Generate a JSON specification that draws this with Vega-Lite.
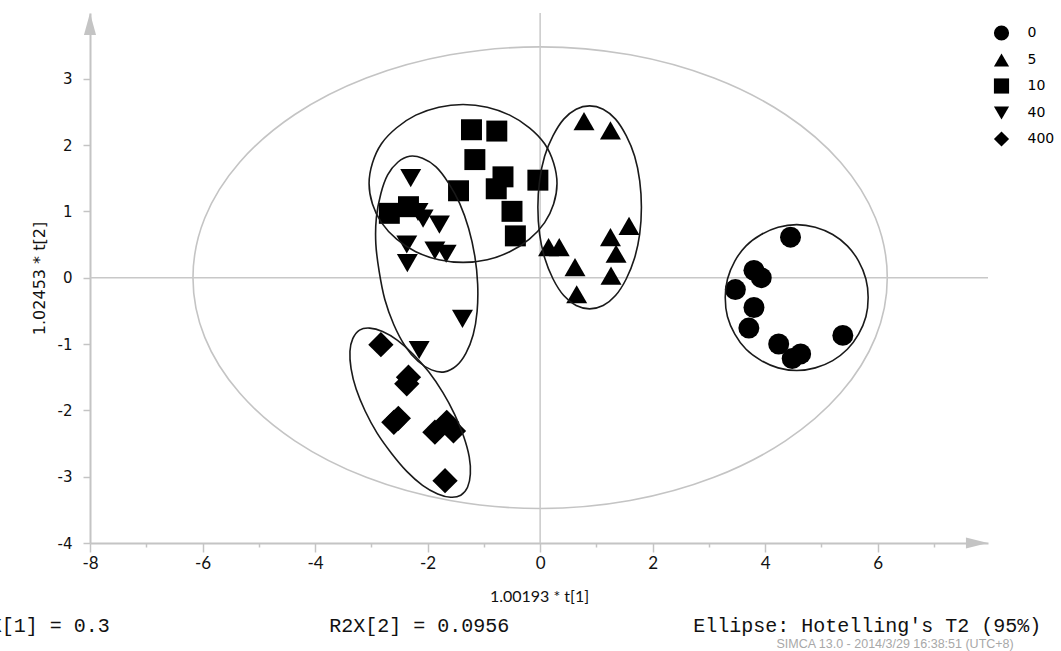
{
  "$schema": "https://vega.github.io/schema/vega-lite/v6.json",
  "width": 898,
  "height": 530,
  "autosize": {"type": "none"},
  "padding": {"left": 90, "top": 13, "right": 73, "bottom": 108},
  "background": "white",
  "config": {"view": {"stroke": null}},
  "datasets": {
    "t2": [
      {"e":"T2","i":0,"x":6.17,"y":0},{"e":"T2","i":1,"x":5.96,"y":0.90},{"e":"T2","i":2,"x":5.34,"y":1.74},{"e":"T2","i":3,"x":4.36,"y":2.46},
      {"e":"T2","i":4,"x":3.09,"y":3.01},{"e":"T2","i":5,"x":1.60,"y":3.36},{"e":"T2","i":6,"x":0,"y":3.48},{"e":"T2","i":7,"x":-1.60,"y":3.36},
      {"e":"T2","i":8,"x":-3.09,"y":3.01},{"e":"T2","i":9,"x":-4.36,"y":2.46},{"e":"T2","i":10,"x":-5.34,"y":1.74},{"e":"T2","i":11,"x":-5.96,"y":0.90},
      {"e":"T2","i":12,"x":-6.17,"y":0},{"e":"T2","i":13,"x":-5.96,"y":-0.90},{"e":"T2","i":14,"x":-5.34,"y":-1.74},{"e":"T2","i":15,"x":-4.36,"y":-2.46},
      {"e":"T2","i":16,"x":-3.09,"y":-3.01},{"e":"T2","i":17,"x":-1.60,"y":-3.36},{"e":"T2","i":18,"x":0,"y":-3.48},{"e":"T2","i":19,"x":1.60,"y":-3.36},
      {"e":"T2","i":20,"x":3.09,"y":-3.01},{"e":"T2","i":21,"x":4.36,"y":-2.46},{"e":"T2","i":22,"x":5.34,"y":-1.74},{"e":"T2","i":23,"x":5.96,"y":-0.90}
    ],
    "groups": [
      {"e":"E0","i":0,"x":5.83,"y":-0.30},{"e":"E0","i":1,"x":5.79,"y":-0.02},{"e":"E0","i":2,"x":5.66,"y":0.25},{"e":"E0","i":3,"x":5.46,"y":0.48},
      {"e":"E0","i":4,"x":5.20,"y":0.65},{"e":"E0","i":5,"x":4.89,"y":0.76},{"e":"E0","i":6,"x":4.56,"y":0.80},{"e":"E0","i":7,"x":4.23,"y":0.76},
      {"e":"E0","i":8,"x":3.93,"y":0.65},{"e":"E0","i":9,"x":3.66,"y":0.48},{"e":"E0","i":10,"x":3.46,"y":0.25},{"e":"E0","i":11,"x":3.33,"y":-0.02},
      {"e":"E0","i":12,"x":3.29,"y":-0.30},{"e":"E0","i":13,"x":3.33,"y":-0.59},{"e":"E0","i":14,"x":3.46,"y":-0.85},{"e":"E0","i":15,"x":3.66,"y":-1.08},
      {"e":"E0","i":16,"x":3.93,"y":-1.25},{"e":"E0","i":17,"x":4.23,"y":-1.36},{"e":"E0","i":18,"x":4.56,"y":-1.40},{"e":"E0","i":19,"x":4.89,"y":-1.36},
      {"e":"E0","i":20,"x":5.20,"y":-1.25},{"e":"E0","i":21,"x":5.46,"y":-1.08},{"e":"E0","i":22,"x":5.66,"y":-0.85},{"e":"E0","i":23,"x":5.79,"y":-0.59},

      {"e":"E5","i":0,"x":1.80,"y":1.06},{"e":"E5","i":1,"x":1.77,"y":1.46},{"e":"E5","i":2,"x":1.68,"y":1.83},{"e":"E5","i":3,"x":1.53,"y":2.14},
      {"e":"E5","i":4,"x":1.34,"y":2.39},{"e":"E5","i":5,"x":1.12,"y":2.54},{"e":"E5","i":6,"x":0.88,"y":2.59},{"e":"E5","i":7,"x":0.64,"y":2.54},
      {"e":"E5","i":8,"x":0.42,"y":2.39},{"e":"E5","i":9,"x":0.23,"y":2.14},{"e":"E5","i":10,"x":0.08,"y":1.83},{"e":"E5","i":11,"x":-0.01,"y":1.46},
      {"e":"E5","i":12,"x":-0.04,"y":1.06},{"e":"E5","i":13,"x":-0.01,"y":0.66},{"e":"E5","i":14,"x":0.08,"y":0.30},{"e":"E5","i":15,"x":0.23,"y":-0.02},
      {"e":"E5","i":16,"x":0.42,"y":-0.27},{"e":"E5","i":17,"x":0.64,"y":-0.42},{"e":"E5","i":18,"x":0.88,"y":-0.47},{"e":"E5","i":19,"x":1.12,"y":-0.42},
      {"e":"E5","i":20,"x":1.34,"y":-0.27},{"e":"E5","i":21,"x":1.53,"y":-0.02},{"e":"E5","i":22,"x":1.68,"y":0.30},{"e":"E5","i":23,"x":1.77,"y":0.66},

      {"e":"E10","i":0,"x":0.30,"y":1.42},{"e":"E10","i":1,"x":0.24,"y":1.73},{"e":"E10","i":2,"x":0.08,"y":2.02},{"e":"E10","i":3,"x":-0.19,"y":2.26},
      {"e":"E10","i":4,"x":-0.54,"y":2.45},{"e":"E10","i":5,"x":-0.94,"y":2.57},{"e":"E10","i":6,"x":-1.37,"y":2.61},{"e":"E10","i":7,"x":-1.80,"y":2.57},
      {"e":"E10","i":8,"x":-2.21,"y":2.45},{"e":"E10","i":9,"x":-2.55,"y":2.26},{"e":"E10","i":10,"x":-2.82,"y":2.02},{"e":"E10","i":11,"x":-2.98,"y":1.73},
      {"e":"E10","i":12,"x":-3.04,"y":1.42},{"e":"E10","i":13,"x":-2.98,"y":1.11},{"e":"E10","i":14,"x":-2.82,"y":0.83},{"e":"E10","i":15,"x":-2.55,"y":0.58},
      {"e":"E10","i":16,"x":-2.21,"y":0.39},{"e":"E10","i":17,"x":-1.80,"y":0.27},{"e":"E10","i":18,"x":-1.37,"y":0.23},{"e":"E10","i":19,"x":-0.94,"y":0.27},
      {"e":"E10","i":20,"x":-0.54,"y":0.39},{"e":"E10","i":21,"x":-0.19,"y":0.58},{"e":"E10","i":22,"x":0.08,"y":0.83},{"e":"E10","i":23,"x":0.24,"y":1.11},

      {"e":"E40","i":0,"x":-1.70,"y":-1.42},{"e":"E40","i":1,"x":-1.49,"y":-1.33},{"e":"E40","i":2,"x":-1.32,"y":-1.14},{"e":"E40","i":3,"x":-1.19,"y":-0.86},
      {"e":"E40","i":4,"x":-1.12,"y":-0.51},{"e":"E40","i":5,"x":-1.11,"y":-0.10},{"e":"E40","i":6,"x":-1.16,"y":0.32},{"e":"E40","i":7,"x":-1.27,"y":0.74},
      {"e":"E40","i":8,"x":-1.43,"y":1.12},{"e":"E40","i":9,"x":-1.63,"y":1.43},{"e":"E40","i":10,"x":-1.85,"y":1.67},{"e":"E40","i":11,"x":-2.09,"y":1.80},
      {"e":"E40","i":12,"x":-2.32,"y":1.83},{"e":"E40","i":13,"x":-2.53,"y":1.74},{"e":"E40","i":14,"x":-2.71,"y":1.55},{"e":"E40","i":15,"x":-2.83,"y":1.27},
      {"e":"E40","i":16,"x":-2.91,"y":0.91},{"e":"E40","i":17,"x":-2.92,"y":0.51},{"e":"E40","i":18,"x":-2.86,"y":0.09},{"e":"E40","i":19,"x":-2.76,"y":-0.33},
      {"e":"E40","i":20,"x":-2.60,"y":-0.71},{"e":"E40","i":21,"x":-2.40,"y":-1.03},{"e":"E40","i":22,"x":-2.17,"y":-1.26},{"e":"E40","i":23,"x":-1.93,"y":-1.39},

      {"e":"E400","i":0,"x":-1.41,"y":-3.28},{"e":"E400","i":1,"x":-1.29,"y":-3.16},{"e":"E400","i":2,"x":-1.24,"y":-2.96},{"e":"E400","i":3,"x":-1.26,"y":-2.70},
      {"e":"E400","i":4,"x":-1.36,"y":-2.39},{"e":"E400","i":5,"x":-1.52,"y":-2.06},{"e":"E400","i":6,"x":-1.73,"y":-1.73},{"e":"E400","i":7,"x":-1.98,"y":-1.42},
      {"e":"E400","i":8,"x":-2.26,"y":-1.15},{"e":"E400","i":9,"x":-2.54,"y":-0.94},{"e":"E400","i":10,"x":-2.80,"y":-0.81},{"e":"E400","i":11,"x":-3.03,"y":-0.76},
      {"e":"E400","i":12,"x":-3.21,"y":-0.79},{"e":"E400","i":13,"x":-3.33,"y":-0.92},{"e":"E400","i":14,"x":-3.38,"y":-1.11},{"e":"E400","i":15,"x":-3.36,"y":-1.37},
      {"e":"E400","i":16,"x":-3.27,"y":-1.68},{"e":"E400","i":17,"x":-3.11,"y":-2.01},{"e":"E400","i":18,"x":-2.90,"y":-2.34},{"e":"E400","i":19,"x":-2.64,"y":-2.65},
      {"e":"E400","i":20,"x":-2.37,"y":-2.92},{"e":"E400","i":21,"x":-2.09,"y":-3.13},{"e":"E400","i":22,"x":-1.82,"y":-3.26},{"e":"E400","i":23,"x":-1.59,"y":-3.31}
    ],
    "pts": [
      {"g":"0","x":4.45,"y":0.61},{"g":"0","x":3.80,"y":0.11},{"g":"0","x":3.93,"y":0.00},{"g":"0","x":3.47,"y":-0.18},
      {"g":"0","x":3.80,"y":-0.45},{"g":"0","x":3.71,"y":-0.76},{"g":"0","x":4.24,"y":-1.00},{"g":"0","x":4.63,"y":-1.15},
      {"g":"0","x":4.48,"y":-1.22},{"g":"0","x":5.38,"y":-0.87},
      {"g":"5","x":0.78,"y":2.36},{"g":"5","x":1.25,"y":2.22},{"g":"5","x":1.58,"y":0.78},{"g":"5","x":1.25,"y":0.61},
      {"g":"5","x":1.35,"y":0.36},{"g":"5","x":0.15,"y":0.46},{"g":"5","x":0.34,"y":0.46},{"g":"5","x":0.62,"y":0.16},
      {"g":"5","x":1.26,"y":0.03},{"g":"5","x":0.65,"y":-0.25},
      {"g":"10","x":-1.22,"y":2.23},{"g":"10","x":-0.77,"y":2.21},{"g":"10","x":-1.16,"y":1.78},{"g":"10","x":-0.66,"y":1.52},
      {"g":"10","x":-0.78,"y":1.34},{"g":"10","x":-0.04,"y":1.47},{"g":"10","x":-1.45,"y":1.31},{"g":"10","x":-0.50,"y":1.00},
      {"g":"10","x":-0.44,"y":0.63},{"g":"10","x":-2.34,"y":1.07},{"g":"10","x":-2.68,"y":0.97},
      {"g":"40","x":-2.30,"y":1.50},{"g":"40","x":-2.17,"y":0.99},{"g":"40","x":-2.08,"y":0.89},{"g":"40","x":-1.79,"y":0.80},
      {"g":"40","x":-2.37,"y":0.50},{"g":"40","x":-2.36,"y":0.22},{"g":"40","x":-1.87,"y":0.41},{"g":"40","x":-1.67,"y":0.36},
      {"g":"40","x":-1.38,"y":-0.62},{"g":"40","x":-2.15,"y":-1.09},
      {"g":"400","x":-2.83,"y":-1.01},{"g":"400","x":-2.34,"y":-1.50},{"g":"400","x":-2.37,"y":-1.60},{"g":"400","x":-2.60,"y":-2.18},
      {"g":"400","x":-2.52,"y":-2.12},{"g":"400","x":-1.87,"y":-2.33},{"g":"400","x":-1.66,"y":-2.18},{"g":"400","x":-1.54,"y":-2.31},
      {"g":"400","x":-1.69,"y":-3.06}
    ],
    "one": [{}]
  },
  "layer": [
    {
      "data": {"name": "t2"},
      "mark": {"type": "line", "interpolate": "cardinal-closed", "color": "#c4c4c4", "strokeWidth": 1.6},
      "encoding": {
        "x": {"field": "x", "type": "quantitative", "title": "1.00193 * t[1]",
          "scale": {"domain": [-8, 7.96], "nice": false, "zero": false},
          "axis": {
            "values": [-8,-7,-6,-5,-4,-3,-2,-1,0,1,2,3,4,5,6,7],
            "labelExpr": "datum.value % 2 === 0 ? '' + datum.value : ''",
            "tickSize": {"condition": {"test": "datum.value % 2 !== 0", "value": 4}, "value": 9},
            "grid": false, "domainColor": "#c4c4c4", "domainWidth": 2, "tickColor": "#c4c4c4", "tickWidth": 1.5,
            "labelFont": "Lato", "labelFontSize": 17, "labelColor": "#111111", "labelPadding": 3, "labelFlush": false,
            "titleFont": "Lato", "titleFontSize": 16, "titleFontWeight": "normal", "titleColor": "#111111", "titlePadding": 17
          }
        },
        "y": {"field": "y", "type": "quantitative", "title": "1.02453 * t[2]",
          "scale": {"domain": [-4, 3.99], "nice": false, "zero": false},
          "axis": {
            "values": [-4,-3.5,-3,-2.5,-2,-1.5,-1,-0.5,0,0.5,1,1.5,2,2.5,3,3.5],
            "labelExpr": "datum.value % 1 === 0 ? '' + datum.value : ''",
            "tickSize": {"condition": {"test": "datum.value % 1 !== 0", "value": 4}, "value": 7},
            "grid": false, "domainColor": "#c4c4c4", "domainWidth": 2, "tickColor": "#c4c4c4", "tickWidth": 1.5,
            "labelFont": "DejaVu Sans", "labelFontSize": 15, "labelColor": "#111111", "labelPadding": 11, "labelFlush": false,
            "titleFont": "DejaVu Sans", "titleFontSize": 16, "titleFontWeight": "normal", "titleColor": "#111111", "titlePadding": 10
          }
        },
        "order": {"field": "i", "type": "quantitative"}
      }
    },
    {
      "data": {"name": "one"},
      "mark": {"type": "rule", "color": "#c8c8c8", "strokeWidth": 1.5},
      "encoding": {"x": {"datum": 0}}
    },
    {
      "data": {"name": "one"},
      "mark": {"type": "rule", "color": "#c8c8c8", "strokeWidth": 1.5},
      "encoding": {"y": {"datum": 0}}
    },
    {
      "data": {"name": "pts"},
      "transform": [{"filter": "datum.g !== '400'"}],
      "mark": {"type": "point", "filled": true, "color": "black", "opacity": 1, "strokeWidth": 0, "size": 440},
      "encoding": {
        "x": {"field": "x", "type": "quantitative", "title": "1.00193 * t[1]"},
        "y": {"field": "y", "type": "quantitative", "title": "1.02453 * t[2]"},
        "shape": {"field": "g", "type": "nominal",
          "scale": {"domain": ["0","5","10","40","400"], "range": ["circle","triangle-up","square","triangle-down","diamond"]},
          "legend": {"title": null, "orient": "none", "legendX": 903.5, "legendY": 12, "padding": 0, "symbolOffset": 0,
            "rowPadding": 11, "labelOffset": 18, "labelFont": "DejaVu Sans", "labelFontSize": 14, "labelColor": "black",
            "symbolFillColor": "black", "symbolStrokeWidth": 0, "symbolOpacity": 1, "symbolSize": 230}
        }
      }
    },
    {
      "data": {"name": "pts"},
      "transform": [{"filter": "datum.g === '400'"}],
      "mark": {"type": "point", "filled": true, "color": "black", "opacity": 1, "strokeWidth": 0, "size": 640},
      "encoding": {
        "x": {"field": "x", "type": "quantitative", "title": "1.00193 * t[1]"},
        "y": {"field": "y", "type": "quantitative", "title": "1.02453 * t[2]"},
        "shape": {"field": "g", "type": "nominal"}
      }
    },
    {
      "data": {"name": "groups"},
      "mark": {"type": "line", "interpolate": "cardinal-closed", "color": "#1a1a1a", "strokeWidth": 1.6},
      "encoding": {
        "x": {"field": "x", "type": "quantitative", "title": "1.00193 * t[1]"},
        "y": {"field": "y", "type": "quantitative", "title": "1.02453 * t[2]"},
        "detail": {"field": "e", "type": "nominal"},
        "order": {"field": "i", "type": "quantitative"}
      }
    },
    {
      "data": {"name": "one"},
      "mark": {"type": "point", "filled": true, "color": "#c4c4c4", "opacity": 1, "strokeWidth": 0, "size": 484, "shape": "M0,-1L0.55,1L-0.55,1Z"},
      "encoding": {"x": {"datum": -8}, "y": {"datum": 3.824}}
    },
    {
      "data": {"name": "one"},
      "mark": {"type": "point", "filled": true, "color": "#c4c4c4", "opacity": 1, "strokeWidth": 0, "size": 484, "shape": "M1,0L-1,0.5L-1,-0.5Z"},
      "encoding": {"x": {"datum": 7.763}, "y": {"datum": -4}}
    },
    {
      "data": {"name": "one"},
      "mark": {"type": "text", "text": "R2X[1] = 0.3", "align": "right", "baseline": "middle", "font": "Liberation Mono", "fontSize": 20, "color": "#111111"},
      "encoding": {"x": {"datum": -7.65}, "y": {"datum": -5.25}}
    },
    {
      "data": {"name": "one"},
      "mark": {"type": "text", "text": "R2X[2] = 0.0956", "align": "left", "baseline": "middle", "font": "Liberation Mono", "fontSize": 20, "color": "#111111"},
      "encoding": {"x": {"datum": -3.75}, "y": {"datum": -5.25}}
    },
    {
      "data": {"name": "one"},
      "mark": {"type": "text", "text": "Ellipse: Hotelling's T2 (95%)", "align": "left", "baseline": "middle", "font": "Liberation Mono", "fontSize": 20, "color": "#111111"},
      "encoding": {"x": {"datum": 2.72}, "y": {"datum": -5.25}}
    },
    {
      "data": {"name": "one"},
      "mark": {"type": "text", "text": "SIMCA 13.0 - 2014/3/29 16:38:51 (UTC+8)", "align": "left", "baseline": "middle", "font": "Liberation Sans", "fontSize": 12.5, "color": "#a8a8a8"},
      "encoding": {"x": {"datum": 4.2}, "y": {"datum": -5.53}}
    }
  ]
}
